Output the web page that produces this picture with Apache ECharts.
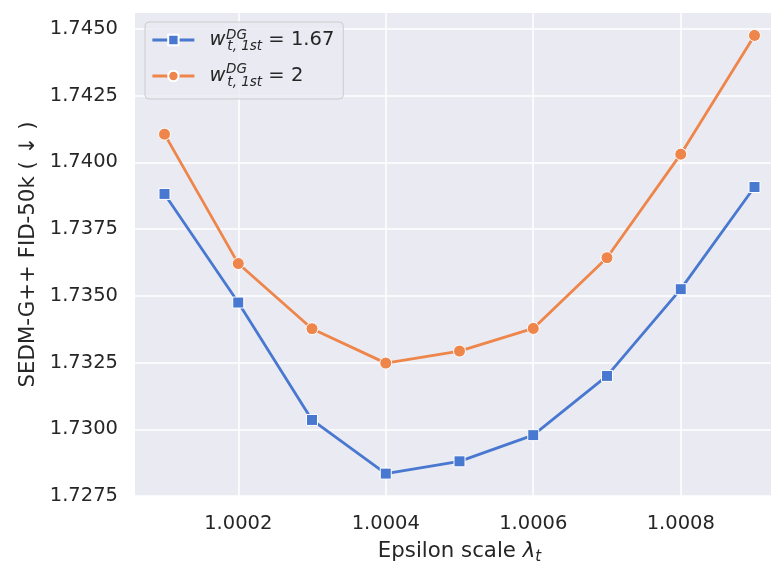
<!DOCTYPE html>
<html>
<head>
<meta charset="utf-8">
<script src="https://cdn.jsdelivr.net/npm/echarts@6/dist/echarts.min.js"></script>
<style>
  html, body { margin: 0; padding: 0; background: #fff; }
  #chart { width: 771px; height: 565px; }
</style>
</head>
<body>
<div id="chart"></div>
<script>
// epsilon scale lambda_t
const epsScale = [1.0001, 1.0002, 1.0003, 1.0004, 1.0005, 1.0006, 1.0007, 1.0008, 1.0009]
// FID-50k, w = 1.67
const fidW167 = [1.73882, 1.73475, 1.73035, 1.72834, 1.72880, 1.72978, 1.73200, 1.73525, 1.73908]
// FID-50k, w = 2
const fidW2 = [1.74106, 1.73621, 1.73377, 1.73248, 1.73293, 1.73378, 1.73643, 1.74031, 1.74476]
// tick labels
const xTicks = [1.0002, 1.0004, 1.0006, 1.0008]
const yTicks = [1.7275, 1.7300, 1.7325, 1.7350, 1.7375, 1.7400, 1.7425, 1.7450]
const seriesNames = ['w167', 'w2']
const seriesValues = ['1.67', '2']

const FONT = 'DejaVu Sans'
const TXT = '#262626'

let myChart = echarts.init(document.getElementById('chart'))

const pairs = (ys) => epsScale.map((x, i) => [x, ys[i]])

myChart.setOption({
  animation: false,
  backgroundColor: '#ffffff',
  textStyle: { fontFamily: FONT, color: TXT },
  grid: {
    left: 135,
    right: -13,
    top: 13,
    bottom: 69,
    show: true,
    backgroundColor: '#eaeaf2',
    borderWidth: 0,
    outerBoundsMode: 'none'
  },
  legend: {
    orient: 'vertical',
    left: 145,
    top: 22,
    padding: [8, 9, 10, 6],
    itemWidth: 42,
    itemHeight: 13,
    itemGap: 13,
    backgroundColor: 'rgba(234,234,242,0.8)',
    borderColor: '#cccccc',
    borderWidth: 1,
    borderRadius: 4,
    lineStyle: { width: 2.8 },
    data: seriesNames,
    formatter: (name) => {
      const v = seriesValues[seriesNames.indexOf(name)]
      return '{w|w}{sub|t, 1st}{eq| = ' + v + '}'
    },
    textStyle: {
      fontFamily: FONT,
      color: TXT,
      rich: {
        w: { fontFamily: FONT, fontStyle: 'italic', fontSize: 19.5, lineHeight: 26, padding: [0, 0, 0, 10], color: TXT },
        sub: { fontFamily: FONT, fontStyle: 'italic', fontSize: 13.5, lineHeight: 9, verticalAlign: 'bottom', padding: [0, 0, 0, 2], color: TXT },
        eq: { fontFamily: FONT, fontSize: 19.5, lineHeight: 26, color: TXT }
      }
    }
  },
  graphic: [
    { type: 'text', left: 226, top: 28, z: 100, style: { text: 'DG', font: 'italic 13.5px "DejaVu Sans"', fill: TXT } },
    { type: 'text', left: 226, top: 62, z: 100, style: { text: 'DG', font: 'italic 13.5px "DejaVu Sans"', fill: TXT } }
  ],
  xAxis: {
    type: 'value',
    min: 1.00006,
    max: 1.00094,
    name: 'Epsilon scale {i|λ}{s|t}',
    nameLocation: 'middle',
    nameGap: 41,
    nameTextStyle: {
      fontFamily: FONT,
      fontSize: 21.3,
      color: TXT,
      rich: {
        i: { fontFamily: FONT, fontStyle: 'italic', fontSize: 21.3, lineHeight: 28, color: TXT },
        s: { fontFamily: FONT, fontStyle: 'italic', fontSize: 15, lineHeight: 13, verticalAlign: 'bottom', color: TXT }
      }
    },
    axisLine: { show: false },
    axisTick: { show: false, customValues: xTicks },
    axisLabel: {
      customValues: xTicks,
      formatter: (v) => v.toFixed(4),
      fontFamily: FONT,
      fontSize: 19.5,
      color: TXT,
      margin: 18
    },
    splitLine: { show: true, lineStyle: { color: '#ffffff', width: 1.5 } }
  },
  yAxis: {
    type: 'value',
    min: 1.7275,
    max: 1.7456,
    interval: 0.0025,
    name: 'SEDM-G++ FID-50k ( ↓ )',
    nameLocation: 'middle',
    nameGap: 96,
    nameTextStyle: { fontFamily: FONT, fontSize: 21.3, color: TXT },
    axisLine: { show: false },
    axisTick: { show: false, customValues: yTicks },
    axisLabel: {
      customValues: yTicks,
      formatter: (v) => v.toFixed(4),
      fontFamily: FONT,
      fontSize: 19.5,
      color: TXT,
      margin: 17
    },
    splitLine: { show: true, lineStyle: { color: '#ffffff', width: 1.5 } }
  },
  series: [
    {
      name: 'w167',
      type: 'line',
      data: pairs(fidW167),
      symbol: 'rect',
      symbolSize: 11,
      lineStyle: { color: '#4878d0', width: 2.8 },
      itemStyle: { color: '#4878d0', borderColor: '#ffffff', borderWidth: 1 },
      z: 3
    },
    {
      name: 'w2',
      type: 'line',
      data: pairs(fidW2),
      symbol: 'circle',
      symbolSize: 12,
      lineStyle: { color: '#ee854a', width: 2.8 },
      itemStyle: { color: '#ee854a', borderColor: '#ffffff', borderWidth: 1 },
      z: 4
    }
  ]
})
</script>
</body>
</html>
